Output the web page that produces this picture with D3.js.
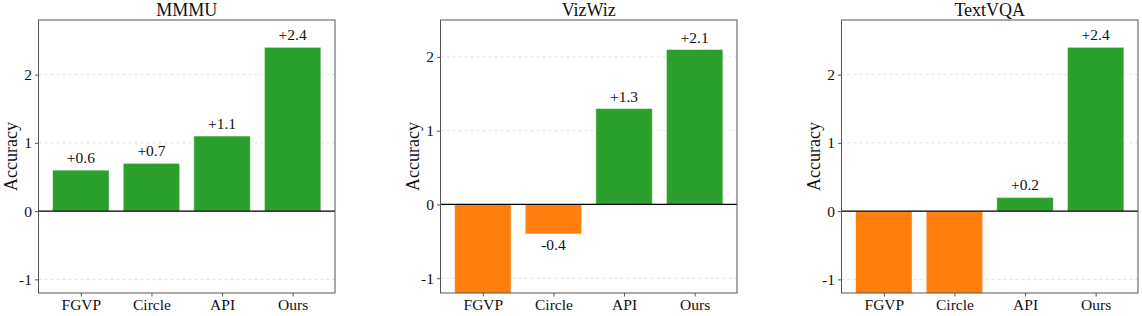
<!DOCTYPE html>
<html>
<head>
<meta charset="utf-8">
<script src="https://cdn.jsdelivr.net/npm/d3@7"></script>
<style>
  body { margin: 0; background: #fff; }
  svg { display: block; font-family: "Liberation Serif", "DejaVu Serif", serif; }
  .tick text { font-size: 15.5px; fill: #111; font-family: "Liberation Serif", "DejaVu Serif", serif; }
</style>
</head>
<body>
<svg id="chart" width="1142" height="316"></svg>
<script>
'use strict';

// chart data
var methods = ['FGVP', 'Circle', 'API', 'Ours'];
var datasets = ['MMMU', 'VizWiz', 'TextVQA'];
var mmmuValues = [0.6, 0.7, 1.1, 2.4];
var vizwizValues = [-1.5, -0.4, 1.3, 2.1];
var textvqaValues = [-1.5, -1.5, 0.2, 2.4];
var yTicks = [-1, 0, 1, 2];
var yLimits = [[-1.2, 2.8], [-1.2, 2.5], [-1.2, 2.8]];

(function () {

    var allValues = [mmmuValues, vizwizValues, textvqaValues];

    // layout of each subplot (left edge of the frame)
    var panelLeft = [38.5, 440.5, 841.5];
    var panelWidth = 296.5;
    var frameTop = 20, frameBottom = 293;

    var svg = d3.select('#chart');

    datasets.forEach(function (name, p) {
        var values = allValues[p];
        var g = svg.append('g')
            .attr('transform', 'translate(' + panelLeft[p] + ',0)');

        // matplotlib-like x range with 0.6 margin on each side
        var x = d3.scaleLinear().domain([-0.6, 3.6]).range([0, panelWidth]);
        var y = d3.scaleLinear().domain(yLimits[p]).range([frameBottom, frameTop]);
        var barW = x(0.8) - x(0);

        g.append('clipPath').attr('id', 'clip' + p)
            .append('rect')
            .attr('x', 0).attr('y', frameTop)
            .attr('width', panelWidth).attr('height', frameBottom - frameTop);

        // dashed grid
        g.selectAll('.grid')
            .data(yTicks)
            .enter()
            .append('line')
            .attr('x1', 0).attr('x2', panelWidth)
            .attr('y1', function (d) { return y(d); })
            .attr('y2', function (d) { return y(d); })
            .attr('stroke', '#d9d9d9')
            .attr('stroke-width', 0.8)
            .attr('stroke-dasharray', '3,3');

        // bars
        g.append('g').attr('clip-path', 'url(#clip' + p + ')')
            .selectAll('rect')
            .data(values)
            .enter()
            .append('rect')
            .attr('x', function (d, i) { return x(i) - barW / 2; })
            .attr('width', barW)
            .attr('y', function (d) { return y(Math.max(0, d)); })
            .attr('height', function (d) { return Math.abs(y(d) - y(0)); })
            .attr('fill', function (d) { return d >= 0 ? '#2ca02c' : '#ff7f0e'; })
            .attr('stroke', '#ffffff')
            .attr('stroke-opacity', 0.6)
            .attr('stroke-width', 0.8);

        // zero line
        g.append('line')
            .attr('x1', 0).attr('x2', panelWidth)
            .attr('y1', y(0)).attr('y2', y(0))
            .attr('stroke', '#000')
            .attr('stroke-width', 1.2);

        // value labels (only those inside the visible range)
        g.selectAll('.val')
            .data(values.map(function (v, i) { return { v: v, i: i }; })
                .filter(function (d) { return d.v >= yLimits[p][0]; }))
            .enter()
            .append('text')
            .attr('x', function (d) { return x(d.i); })
            .attr('y', function (d) { return d.v >= 0 ? y(d.v) - 7 : y(d.v) + 16; })
            .attr('text-anchor', 'middle')
            .attr('font-size', 15.5)
            .attr('fill', '#111')
            .text(function (d) { return (d.v >= 0 ? '+' : '') + d.v.toFixed(1); });

        // axes
        var yAxis = g.append('g')
            .call(d3.axisLeft(y).tickValues(yTicks).tickSize(3.5).tickPadding(3)
                .tickFormat(function (d) { return String(d); }));
        yAxis.select('.domain').remove();
        yAxis.selectAll('.tick line').attr('stroke', '#555');

        var xAxis = g.append('g')
            .attr('transform', 'translate(0,' + frameBottom + ')')
            .call(d3.axisBottom(x).tickValues([0, 1, 2, 3]).tickSize(3.5).tickPadding(2)
                .tickFormat(function (d) { return methods[d]; }));
        xAxis.select('.domain').remove();
        xAxis.selectAll('.tick line').attr('stroke', '#555');

        // frame
        g.append('rect')
            .attr('x', 0).attr('y', frameTop)
            .attr('width', panelWidth).attr('height', frameBottom - frameTop)
            .attr('fill', 'none')
            .attr('stroke', '#555')
            .attr('stroke-width', 1);

        // title
        g.append('text')
            .attr('x', panelWidth / 2)
            .attr('y', 15.5)
            .attr('text-anchor', 'middle')
            .attr('font-size', 18)
            .attr('fill', '#111')
            .text(name);

        // y label
        g.append('text')
            .attr('transform', 'translate(-22,' + ((frameTop + frameBottom) / 2) + ') rotate(-90)')
            .attr('text-anchor', 'middle')
            .attr('font-size', 18)
            .attr('fill', '#111')
            .text('Accuracy');
    });

})();
</script>
</body>
</html>
